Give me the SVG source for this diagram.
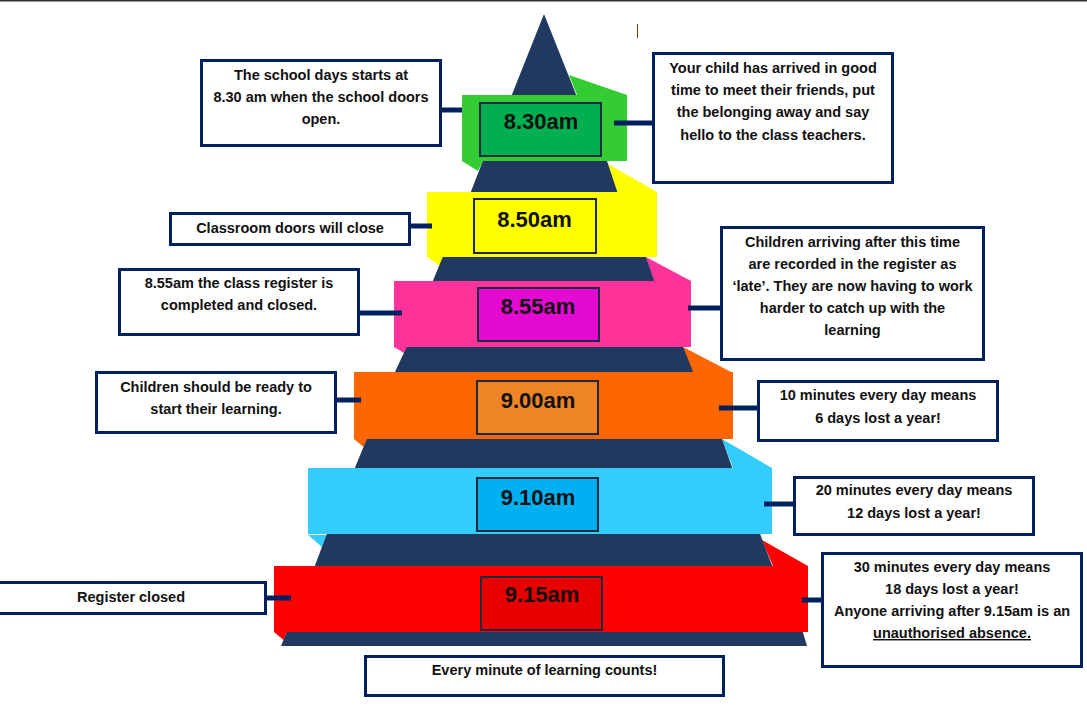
<svg xmlns="http://www.w3.org/2000/svg" width="1087" height="715" viewBox="0 0 1087 715">
<defs>
<style>
.dark{fill:#22395f}
.lbl{stroke:#1b2a40;stroke-width:2}
.tm{font-family:"Liberation Sans",Arial,sans-serif;font-weight:bold;font-size:22px;fill:#111;text-anchor:middle}
.box{fill:#fff;stroke:#002060;stroke-width:3}
.tx{font-family:"Liberation Sans",Arial,sans-serif;font-weight:bold;font-size:14.5px;fill:#111;text-anchor:middle}
.con{stroke:#002060;stroke-width:5;fill:none}
</style>
</defs>
<rect x="0" y="0" width="1087" height="715" fill="#fff"/>
<rect x="0" y="0" width="1087" height="1.5" fill="#333"/>
<line x1="637.5" y1="24" x2="637.5" y2="38" stroke="#7f3f00" stroke-width="1"/>

<g id="pyramid">
  <!-- back slants -->
  <polygon points="569,75 627,95 577,95" fill="#33cc33"/>
  <polygon points="462,161 483,161 478,171" fill="#33cc33"/>
  <polygon points="608,164 657,192 617,192" fill="#ffff00"/>
  <polygon points="427,257 443,257 440,266" fill="#ffff00"/>
  <polygon points="646,257 691,281 654,281" fill="#ff3399"/>
  <polygon points="394,347 407,347 404,353" fill="#ff3399"/>
  <polygon points="683,347 733,373 693,373" fill="#ff6600"/>
  <polygon points="354,439 367,439 363.5,447" fill="#ff6600"/>
  <polygon points="722,439 772,468 733,468" fill="#33ccff"/>
  <polygon points="308,535 327,535 322,547" fill="#33ccff"/>
  <polygon points="762,540 808,566 773,566" fill="#ff0000"/>
  <polygon points="274,632 287,632 283.5,640" fill="#ff0000"/>
  <!-- dark segments -->
  <polygon class="dark" points="544,14 505,112 583,112"/>
  <polygon class="dark" points="484,158 606,158 618,194 470,194"/>
  <polygon class="dark" points="444,254 645,254 655,283 432,283"/>
  <polygon class="dark" points="408,344 682,344 694,374 394,374"/>
  <polygon class="dark" points="368,436 721,436 733,470 354,470"/>
  <polygon class="dark" points="328,531 759,531 773,568 314,568"/>
  <polygon class="dark" points="288,629 802,629 807,646 281,646"/>
  <!-- bands -->
  <rect x="462" y="95" width="165" height="66" fill="#33cc33"/>
  <rect x="427" y="192" width="230" height="65" fill="#ffff00"/>
  <rect x="394" y="281" width="297" height="66" fill="#ff3399"/>
  <rect x="354" y="372" width="379" height="67" fill="#ff6600"/>
  <rect x="308" y="468" width="464" height="66" fill="#33ccff"/>
  <rect x="274" y="566" width="534" height="66" fill="#ff0000"/>
</g>

<g id="label-830">
  <rect class="lbl" x="480" y="103" width="121" height="53" fill="#00b050"/>
  <text class="tm" x="541" y="129">8.30am</text>
</g>
<g id="label-850">
  <rect class="lbl" x="474" y="199" width="122" height="54" fill="#ffff00"/>
  <text class="tm" x="534.5" y="227">8.50am</text>
</g>
<g id="label-855">
  <rect class="lbl" x="478" y="288" width="121" height="53" fill="#e40ad2"/>
  <text class="tm" x="538" y="314">8.55am</text>
</g>
<g id="label-900">
  <rect class="lbl" x="477" y="381" width="121" height="53" fill="#ef8427"/>
  <text class="tm" x="538" y="408">9.00am</text>
</g>
<g id="label-910">
  <rect class="lbl" x="477" y="478" width="121" height="53" fill="#00b0f0"/>
  <text class="tm" x="538" y="505">9.10am</text>
</g>
<g id="label-915">
  <rect class="lbl" x="481" y="577" width="121" height="53" fill="#e60000"/>
  <text class="tm" x="542" y="602">9.15am</text>
</g>

<g id="connectors">
  <line class="con" x1="442" y1="110" x2="462" y2="110"/>
  <line class="con" x1="614" y1="123" x2="653" y2="123"/>
  <line class="con" x1="410" y1="226" x2="432" y2="226"/>
  <line class="con" x1="359" y1="313" x2="402" y2="313"/>
  <line class="con" x1="688" y1="308" x2="721" y2="308"/>
  <line class="con" x1="336" y1="400" x2="361" y2="400"/>
  <line class="con" x1="719" y1="408" x2="758" y2="408"/>
  <line class="con" x1="764" y1="504" x2="794" y2="504"/>
  <line class="con" x1="266" y1="598" x2="291" y2="598"/>
  <line class="con" x1="802" y1="600" x2="822" y2="600"/>
</g>

<g id="box-start">
  <rect class="box" x="201.5" y="60.5" width="239" height="85"/>
  <text class="tx" x="321" y="80">The school days starts at</text>
  <text class="tx" x="321" y="102">8.30 am when the school doors</text>
  <text class="tx" x="321" y="124">open.</text>
</g>
<g id="box-arrive">
  <rect class="box" x="653.5" y="53.5" width="239" height="129"/>
  <text class="tx" x="773" y="73">Your child has arrived in good</text>
  <text class="tx" x="773" y="95">time to meet their friends, put</text>
  <text class="tx" x="773" y="117">the belonging away and say</text>
  <text class="tx" x="773" y="140">hello to the class teachers.</text>
</g>
<g id="box-close">
  <rect class="box" x="170.5" y="213.5" width="239" height="31"/>
  <text class="tx" x="290" y="233">Classroom doors will close</text>
</g>
<g id="box-register">
  <rect class="box" x="119.5" y="269.5" width="239" height="65"/>
  <text class="tx" x="239" y="288">8.55am the class register is</text>
  <text class="tx" x="239" y="310">completed and closed.</text>
</g>
<g id="box-late">
  <rect class="box" x="721.5" y="227.5" width="262" height="132"/>
  <text class="tx" x="852.5" y="247">Children arriving after this time</text>
  <text class="tx" x="852.5" y="269">are recorded in the register as</text>
  <text class="tx" x="852.5" y="291">‘late’. They are now having to work</text>
  <text class="tx" x="852.5" y="313">harder to catch up with the</text>
  <text class="tx" x="852.5" y="335">learning</text>
</g>
<g id="box-ready">
  <rect class="box" x="96.5" y="372.5" width="239" height="60"/>
  <text class="tx" x="216" y="392">Children should be ready to</text>
  <text class="tx" x="216" y="414">start their learning.</text>
</g>
<g id="box-closed">
  <rect class="box" x="-2" y="582.5" width="267.5" height="31"/>
  <text class="tx" x="131" y="602">Register closed</text>
</g>
<g id="box-10">
  <rect class="box" x="758.5" y="381.5" width="239" height="59"/>
  <text class="tx" x="878" y="400">10 minutes every day means</text>
  <text class="tx" x="878" y="423">6 days lost a year!</text>
</g>
<g id="box-20">
  <rect class="box" x="794.5" y="477.5" width="239" height="57"/>
  <text class="tx" x="914" y="495">20 minutes every day means</text>
  <text class="tx" x="914" y="518">12 days lost a year!</text>
</g>
<g id="box-30">
  <rect class="box" x="822.5" y="553.5" width="259" height="113"/>
  <text class="tx" x="952" y="572">30 minutes every day means</text>
  <text class="tx" x="952" y="594">18 days lost a year!</text>
  <text class="tx" x="952" y="616">Anyone arriving after 9.15am is an</text>
  <text class="tx" x="952" y="638" text-decoration="underline">unauthorised absence.</text>
</g>
<g id="box-every">
  <rect class="box" x="365.5" y="656.5" width="358" height="39"/>
  <text class="tx" x="544.5" y="675">Every minute of learning counts!</text>
</g>
</svg>
